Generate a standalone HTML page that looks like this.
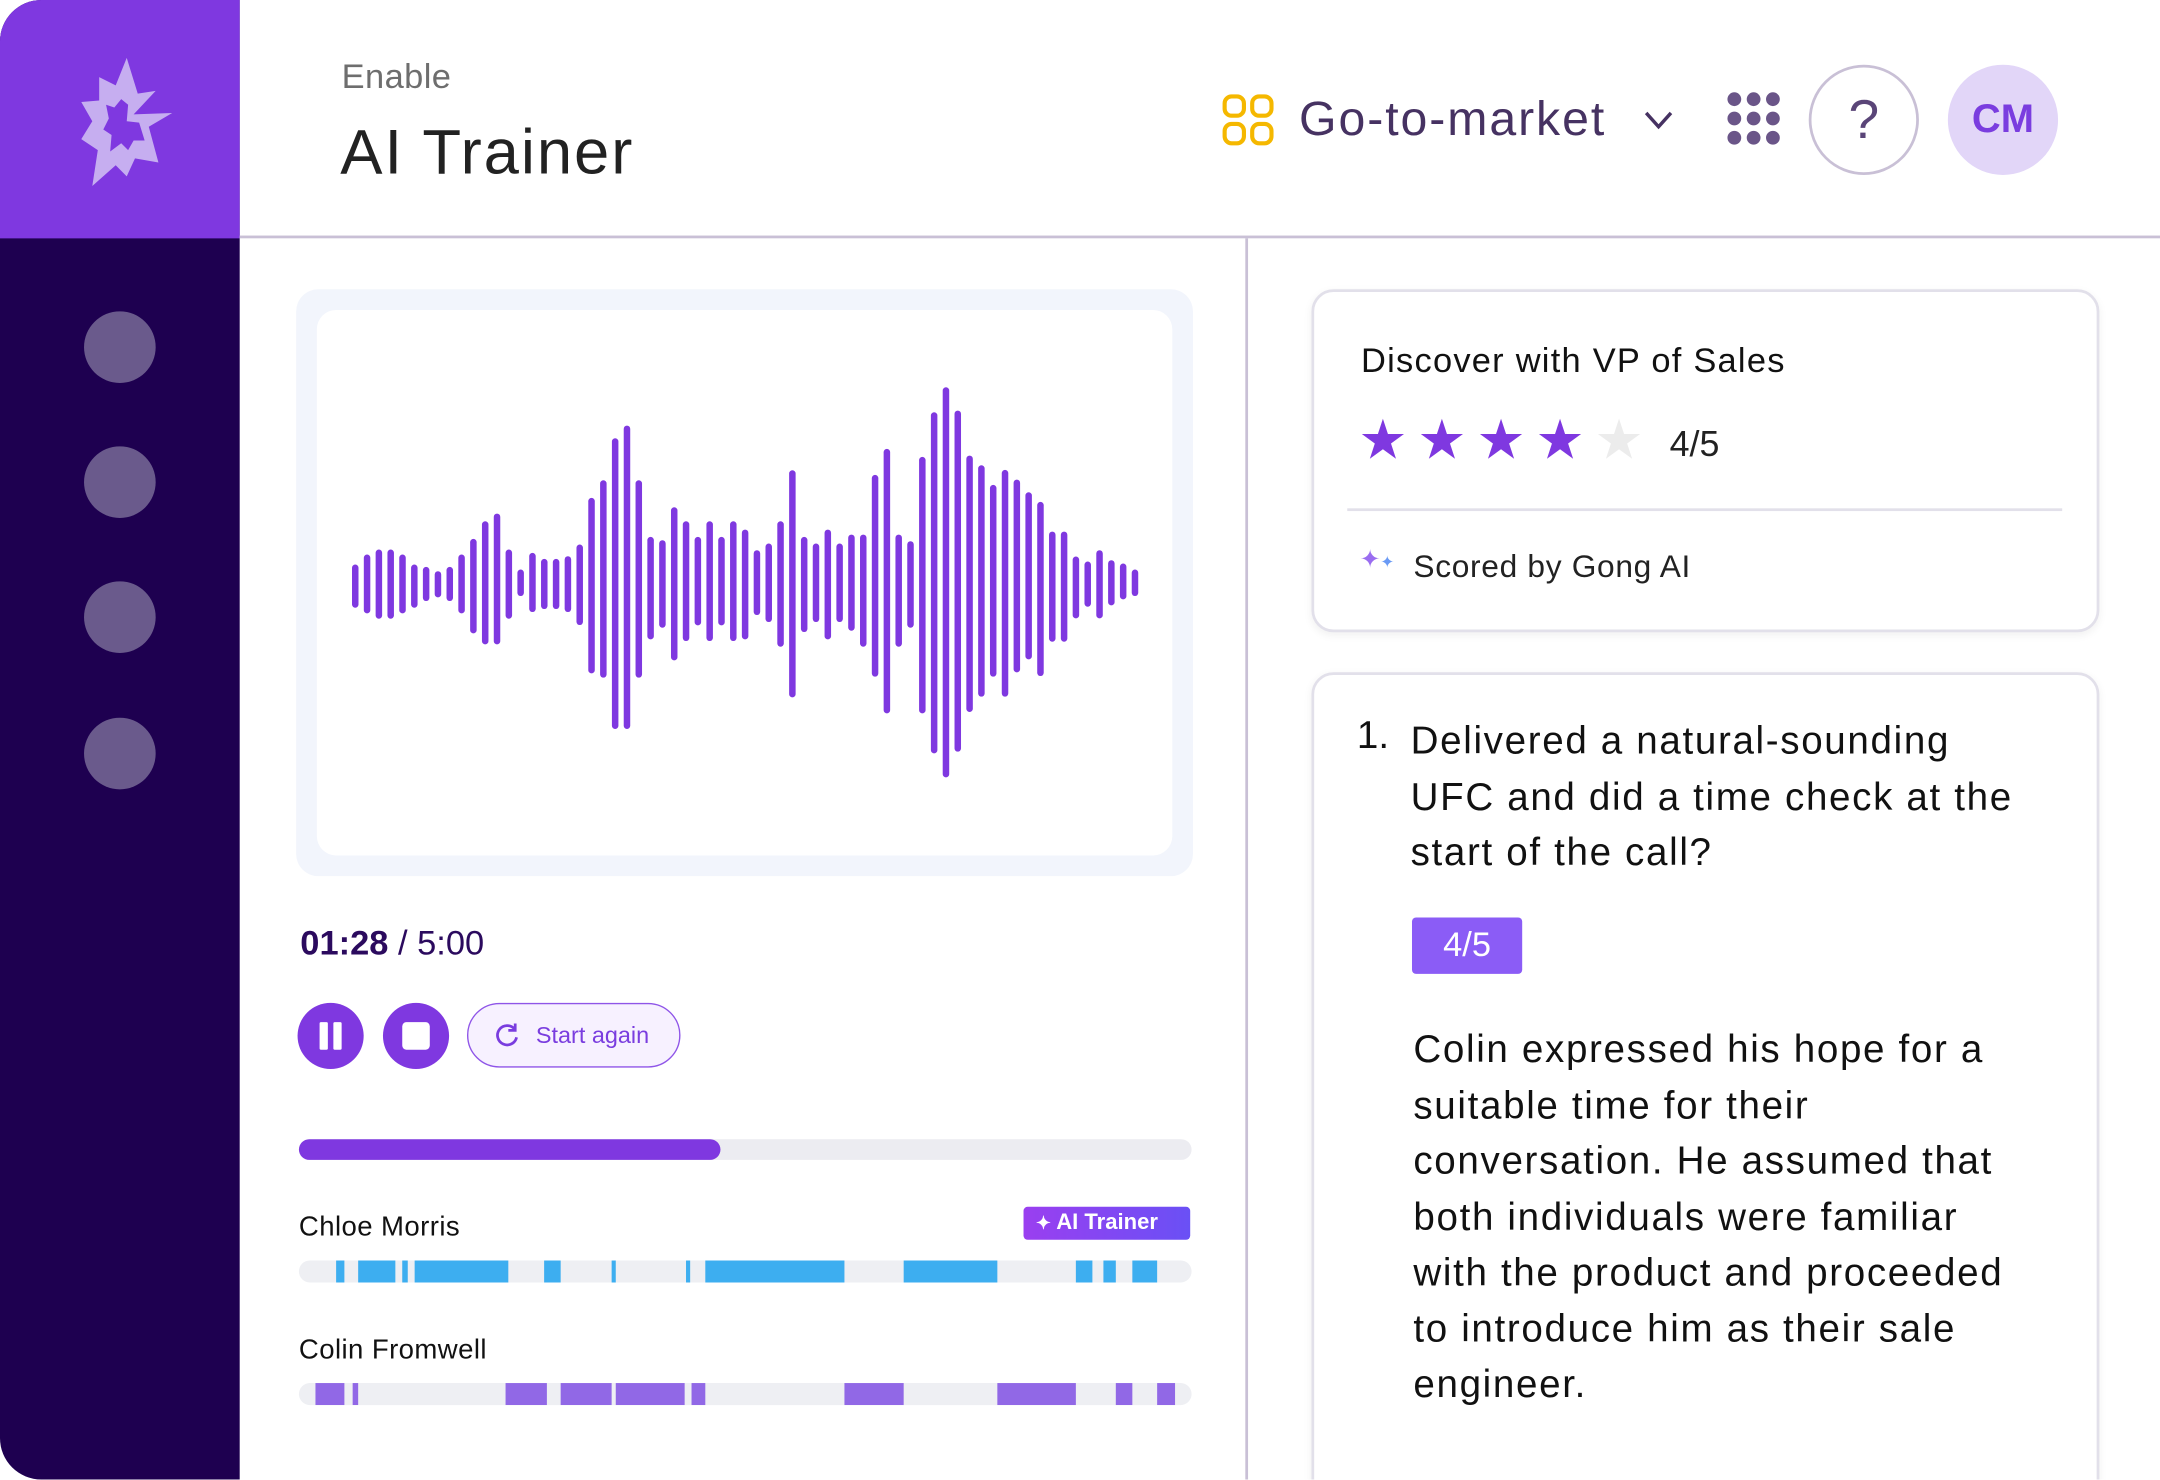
<!DOCTYPE html>
<html><head><meta charset="utf-8"><style>
html,body{margin:0;padding:0;width:2160px;height:1480px;overflow:hidden;background:#fff}
#w{position:absolute;left:0;top:0;width:1568px;height:1074px;overflow:hidden;transform:scale(1.37755);transform-origin:0 0;font-family:"Liberation Sans",sans-serif;color:#1a1a1a}
.a{position:absolute}
.dot{position:absolute;left:61px;width:52px;height:52px;border-radius:50%;background:#6a5a8c}
.card{position:absolute;border:2px solid #e2e0ea;border-radius:16px;background:#fff;box-shadow:0 2px 6px rgba(0,0,0,.06)}
</style></head><body><div id="w">
<div class="a" style="left:0;top:0;width:174px;height:1074px;background:#1e0050;border-radius:30px 0 0 30px"></div>
<div class="a" style="left:0;top:0;width:174px;height:173px;background:#7f38e0;border-top-left-radius:30px"></div>
<svg class="a" style="left:40px;top:38px" width="95" height="100" viewBox="0 0 95 100">
<path fill="#c6aef0" fill-rule="evenodd" d="M52,4 L60,30 L73,28 L57,45 L85,44 L68,54 L75,80 L58,77 L52,90 L44,82 L27,97 L31,71 L19,63 L27,50 L19,36 L32,35 L32,18 L44,24 Z M48,34 L43,40 L37,38 L39,48 L35,56 L41,60 L40,72 L48,66 L53,71 L57,64 L65,64 L61,51 L52,50 L53,38 Z"/>
</svg>
<div class="dot" style="top:226px"></div><div class="dot" style="top:324px"></div><div class="dot" style="top:422px"></div><div class="dot" style="top:521px"></div>
<div class="a" style="left:174px;top:171px;width:1394px;height:2px;background:#c9c0d6"></div>
<div class="a" style="left:904px;top:173px;width:2px;height:901px;background:#c9c0d6"></div>
<div class="a" style="left:248px;top:42px;font-size:25px;color:#6e6e6e;letter-spacing:0.3px">Enable</div>
<div class="a" style="left:247px;top:83px;font-size:46px;font-weight:500;color:#222;letter-spacing:1.4px">AI Trainer</div>
<svg class="a" style="left:886px;top:67px" width="42" height="42"><g fill="none" stroke="#f5b800" stroke-width="3"><rect x="3" y="3" width="14" height="14" rx="5"/><rect x="23" y="3" width="14" height="14" rx="5"/><rect x="3" y="23" width="14" height="14" rx="5"/><rect x="23" y="23" width="14" height="14" rx="5"/></g></svg>
<div class="a" style="left:943px;top:67px;font-size:35px;color:#463262;letter-spacing:1.4px">Go-to-market</div>
<svg class="a" style="left:1192px;top:78px" width="24" height="18"><polyline points="3,4 12,14 21,4" fill="none" stroke="#463262" stroke-width="2.5"/></svg>
<svg class="a" style="left:1253px;top:66px" width="42" height="42" fill="#6a5588"><circle cx="6" cy="6" r="5"/><circle cx="20" cy="6" r="5"/><circle cx="34" cy="6" r="5"/><circle cx="6" cy="20" r="5"/><circle cx="20" cy="20" r="5"/><circle cx="34" cy="20" r="5"/><circle cx="6" cy="34" r="5"/><circle cx="20" cy="34" r="5"/><circle cx="34" cy="34" r="5"/></svg>
<div class="a" style="left:1313px;top:47px;width:76px;height:76px;border:2px solid #c9c0d6;border-radius:50%;text-align:center;line-height:76px;font-size:40px;color:#5a4578">?</div>
<div class="a" style="left:1414px;top:47px;width:80px;height:80px;background:#e2d6f8;border-radius:50%;text-align:center;line-height:80px;font-size:29px;font-weight:bold;color:#7a3ddf">CM</div>

<div class="a" style="left:215px;top:210px;width:651px;height:426px;background:#f2f5fc;border-radius:16px"></div>
<div class="a" style="left:230px;top:225px;width:621px;height:396px;background:#fff;border-radius:14px"></div>
<svg id="wave" class="a" style="left:0;top:0" width="1568" height="1074" viewBox="0 0 2160 1480"></svg>

<div class="a" style="left:218px;top:671px;font-size:25px;color:#2b0a5e"><b>01:28</b> / 5:00</div>
<div class="a" style="left:216px;top:728px;width:48px;height:48px;border-radius:50%;background:#7f38e0"></div>
<div class="a" style="left:232px;top:742px;width:6px;height:20px;background:#fff;border-radius:1px"></div>
<div class="a" style="left:242px;top:742px;width:6px;height:20px;background:#fff;border-radius:1px"></div>
<div class="a" style="left:278px;top:728px;width:48px;height:48px;border-radius:50%;background:#7f38e0"></div>
<div class="a" style="left:292px;top:742px;width:20px;height:20px;background:#fff;border-radius:3px"></div>
<div class="a" style="left:339px;top:728px;width:153px;height:45px;border:1.5px solid #8f55e8;border-radius:24px;background:#f7f1ff"></div>
<svg class="a" style="left:358px;top:742px" width="20" height="20"><path d="M15.5 5 A7 7 0 1 0 17 11" fill="none" stroke="#7a3ddf" stroke-width="2"/><polyline points="16,1 16,6 11,6" fill="none" stroke="#7a3ddf" stroke-width="2"/></svg>
<div class="a" style="left:389px;top:742px;font-size:17px;color:#7a3ddf">Start again</div>
<div class="a" style="left:217px;top:827px;width:648px;height:15px;background:#ececf1;border-radius:8px"></div>
<div class="a" style="left:217px;top:827px;width:306px;height:15px;background:#7f38e0;border-radius:8px"></div>
<div class="a" style="left:217px;top:880px;font-size:20px;color:#111;letter-spacing:0.3px">Chloe Morris</div>
<div class="a" style="left:743px;top:876px;width:121px;height:24px;background:linear-gradient(90deg,#9a3ff0,#6a50f5);border-radius:3px;color:#fff;font-size:16px;font-weight:bold;line-height:24px"><span style="margin-left:9px;font-size:13px">✦</span> AI Trainer</div>
<div class="a" style="left:217px;top:969px;font-size:20px;color:#111;letter-spacing:0.3px">Colin Fromwell</div>
<div class="a" style="left:217px;top:915px;width:648px;height:16px;background:#eeeff3;border-radius:8px;overflow:hidden" id="t1"></div>
<div class="a" style="left:217px;top:1004px;width:648px;height:16px;background:#eeeff3;border-radius:8px;overflow:hidden" id="t2"></div>

<div class="card" style="left:952px;top:210px;width:568px;height:245px"></div>
<div class="a" style="left:988px;top:248px;font-size:25px;font-weight:500;color:#111;letter-spacing:0.9px">Discover with VP of Sales</div>
<div class="a" style="left:986px;top:297px;font-size:40px;color:#7f38e0;letter-spacing:7px">★★★★<span style="color:#ececec">★</span></div>
<div class="a" style="left:1212px;top:307px;font-size:26px;color:#222">4/5</div>
<div class="a" style="left:978px;top:369px;width:519px;height:2px;background:#e2e0ea"></div>
<div class="a" style="left:987px;top:396px;font-size:18px;color:#9a6df0">✦<span style="font-size:12px;color:#6a9af5">✦</span></div>
<div class="a" style="left:1026px;top:398px;font-size:23px;color:#222;letter-spacing:0.5px">Scored by Gong AI</div>

<div class="card" style="left:952px;top:488px;width:568px;height:620px"></div>
<div class="a" style="left:985px;top:518px;font-size:28px;font-weight:500;color:#111">1.</div>
<div class="a" style="left:1024px;top:518px;width:520px;font-size:28px;font-weight:500;color:#111;line-height:40.5px;white-space:nowrap;letter-spacing:1.2px">Delivered a natural-sounding<br>UFC and did a time check at the<br>start of the call?</div>
<div class="a" style="left:1025px;top:666px;width:80px;height:41px;background:#8b5cf6;border-radius:3px;color:#fff;font-size:25px;text-align:center;line-height:41px">4/5</div>
<div class="a" style="left:1026px;top:742px;width:520px;font-size:28px;color:#111;line-height:40.5px;white-space:nowrap;letter-spacing:1.2px">Colin expressed his hope for a<br>suitable time for their<br>conversation. He assumed that<br>both individuals were familiar<br>with the product and proceeded<br>to introduce him as their sale<br>engineer.</div>
</div>
<script>
var d=[[585,713],[555,730],[540,746],[540,746],[555,730],[585,713],[592,693],[605,682],[592,693],[555,730],[508,790],[455,823],[432,823],[540,746],[600,678],[550,726],[568,717],[568,717],[560,726],[525,765],[385,910],[332,923],[206,1077],[168,1077],[332,923],[502,808],[512,773],[413,871],[455,813],[502,766],[455,813],[502,766],[455,813],[480,808],[542,735],[522,756],[455,830],[302,982],[502,786],[522,756],[480,808],[522,756],[495,782],[495,830],[316,920],[238,1030],[495,830],[515,773],[262,1030],[128,1150],[53,1222],[123,1145],[258,1026],[287,980],[346,920],[301,980],[330,907],[368,868],[397,918],[486,815],[486,815],[561,745],[576,710],[542,745],[572,706],[582,688],[600,678]];
var s='';for(var i=0;i<d.length;i++){var x=355+i*780/66;s+='<line x1="'+x+'" x2="'+x+'" y1="'+(370+d[i][0]/3+3)+'" y2="'+(370+d[i][1]/3-3)+'"/>';}
document.getElementById('wave').innerHTML='<g stroke="#7f38e0" stroke-width="6.5" stroke-linecap="round">'+s+'</g>';
function seg(id,a,c){var h='';for(var i=0;i<a.length;i++)h+='<div style="position:absolute;top:0;height:16px;left:'+(a[i][0]-217)+'px;width:'+(a[i][1]-a[i][0])+'px;background:'+c+'"></div>';document.getElementById(id).innerHTML=h;}
seg('t1',[[243.7,249.7],[260.3,287.2],[292.3,295.7],[301.2,369.4],[395,406.5],[443.5,447.4],[497.6,501.5],[511.7,612.6],[656.1,724.3],[780.9,792.8],[801,809.5],[821.8,840.1]],'#3daef0');
seg('t2',[[228.8,249.7],[256.1,260.3],[367.3,396.7],[406.5,443.5],[447.4,497.2],[501.5,511.7],[612.6,656.1],[724.3,781],[809.5,821.8],[840.1,853]],'#9168e6');
</script>
</body></html>
